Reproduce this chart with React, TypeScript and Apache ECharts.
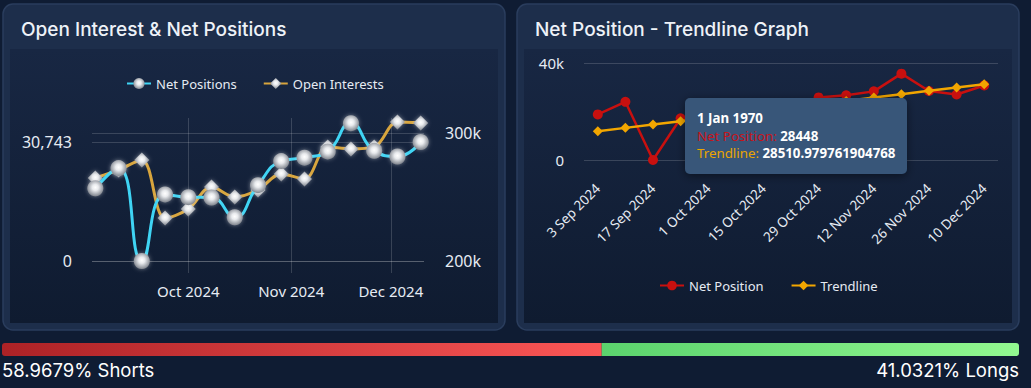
import React, { useEffect, useRef } from 'react';
import * as echarts from 'echarts';

// ---------- data ----------
const weekDates = [
  '2024-09-03', '2024-09-10', '2024-09-17', '2024-09-24', '2024-10-01',
  '2024-10-08', '2024-10-15', '2024-10-22', '2024-10-29', '2024-11-05',
  '2024-11-12', '2024-11-19', '2024-11-26', '2024-12-03', '2024-12-10',
];
const weekLabels = [
  '3 Sep 2024', '10 Sep 2024', '17 Sep 2024', '24 Sep 2024', '1 Oct 2024',
  '8 Oct 2024', '15 Oct 2024', '22 Oct 2024', '29 Oct 2024', '5 Nov 2024',
  '12 Nov 2024', '19 Nov 2024', '26 Nov 2024', '3 Dec 2024', '10 Dec 2024',
];
const netPositions = [18800, 24000, 0, 17200, 16500, 16400, 11300, 19600, 25800, 26700, 28300, 35600, 28448, 27000, 30743];
const openInterests = [264800, 271100, 278900, 233600, 240600, 257800, 250000, 255500, 268000, 264100, 289100, 287500, 289100, 308600, 307800];
const trendline = [11864, 13251, 14638, 16025, 17412, 18798, 20185, 21572, 22959, 24346, 25733, 27120, 28511, 29894, 31281];
const monthTicks = ['2024-10-01', '2024-11-01', '2024-12-01'];
const netAxisTicks = [0, 30743];
const oiAxisTicks = [200000, 300000];
const shortsPct = 58.9679;
const longsPct = 41.0321;
const tipDate = '1 Jan 1970';
const tipNet = '28448';
const tipTrend = '28510.979761904768';
const titles = ['Open Interest & Net Positions', 'Net Position - Trendline Graph'];

// ---------- style ----------
const W = 1031;
const H = 388;
const PAGE_BG = '#0f1c33';
const FONT = '"Noto Sans", "Open Sans", sans-serif';
const TITLE_FONT = 'Inter, "Noto Sans", sans-serif';
const GRID_LINE = 'rgba(255,255,255,0.16)';
const TEXT = '#e6ebf3';
const MONTHS = ['Jan', 'Feb', 'Mar', 'Apr', 'May', 'Jun', 'Jul', 'Aug', 'Sep', 'Oct', 'Nov', 'Dec'];

const toTs = (s: string) => {
  const [y, m, d] = s.split('-').map(Number);
  return new Date(y, m - 1, d).getTime();
};

const sphere = {
  type: 'radial', x: 0.5, y: 0.45, r: 0.55,
  colorStops: [
    { offset: 0, color: '#ffffff' },
    { offset: 0.35, color: '#e9ebee' },
    { offset: 1, color: '#7f848d' },
  ],
};

function panel(x: number) {
  return [
    {
      type: 'rect', z: -9, silent: true,
      shape: { x, y: 4, width: 502, height: 326, r: 10 },
      style: { fill: '#1d2e4b', stroke: '#2a3d5d', lineWidth: 1.5 },
    },
    {
      type: 'rect', z: -8, silent: true,
      shape: { x: x + 7, y: 49, width: 488, height: 274 },
      style: {
        fill: new echarts.graphic.LinearGradient(0, 0, 0, 1, [
          { offset: 0, color: '#182743' },
          { offset: 1, color: '#0f1b30' },
        ]),
      },
    },
  ];
}

export default function App() {
  const ref = useRef<HTMLDivElement>(null);

  useEffect(() => {
    document.body.style.margin = '0';
    document.body.style.background = PAGE_BG;
    const chart = echarts.init(ref.current!, null, { renderer: 'svg', width: W, height: H });

    const barX = 2;
    const barW = 1017;
    const shortW = (barW * shortsPct) / 100;
    const longW = (barW * longsPct) / 100;

    const option: any = {
      animation: false,
      textStyle: { fontFamily: FONT },
      graphic: [
        { type: 'rect', z: -10, silent: true, shape: { x: 0, y: 0, width: W, height: H }, style: { fill: PAGE_BG } },
        ...panel(3),
        ...panel(517),
        {
          type: 'text', z: 5, x: 21, y: 29,
          style: { text: titles[0], fill: '#eef2f8', font: `500 19px ${TITLE_FONT}`, verticalAlign: 'middle' },
        },
        {
          type: 'text', z: 5, x: 535, y: 29,
          style: { text: titles[1], fill: '#eef2f8', font: `500 19px ${TITLE_FONT}`, verticalAlign: 'middle' },
        },
        {
          type: 'rect', z: 5, silent: true,
          shape: { x: barX, y: 343, width: shortW, height: 13, r: [3, 0, 0, 3] },
          style: {
            fill: new echarts.graphic.LinearGradient(0, 0, 1, 0, [
              { offset: 0, color: '#ad2226' },
              { offset: 1, color: '#fb5656' },
            ]),
          },
        },
        {
          type: 'rect', z: 5, silent: true,
          shape: { x: barX + shortW, y: 343, width: longW, height: 13, r: [0, 3, 3, 0] },
          style: {
            fill: new echarts.graphic.LinearGradient(0, 0, 1, 0, [
              { offset: 0, color: '#5bd36d' },
              { offset: 1, color: '#92f890' },
            ]),
          },
        },
        {
          type: 'text', z: 5, x: 2, y: 370,
          style: { text: `${shortsPct}% Shorts`, fill: '#ffffff', font: `400 18.5px ${TITLE_FONT}`, verticalAlign: 'middle' },
        },
        {
          type: 'text', z: 5, x: 1019, y: 370,
          style: { text: `${longsPct}% Longs`, fill: '#ffffff', font: `400 18.5px ${TITLE_FONT}`, verticalAlign: 'middle', align: 'right' },
        },
        {
          type: 'group', z: 100, x: 685, y: 98,
          children: [
            {
              type: 'rect', z: 100,
              shape: { x: 0, y: 0, width: 222, height: 76, r: 5 },
              style: { fill: '#375679', shadowBlur: 10, shadowColor: 'rgba(0,0,0,0.45)', shadowOffsetY: 2 },
            },
            {
              type: 'text', z: 101, x: 12, y: 20,
              style: { text: tipDate, fill: '#ffffff', font: `bold 13.3px ${FONT}`, verticalAlign: 'middle' },
            },
            {
              type: 'text', z: 101, x: 12, y: 38,
              style: {
                text: `{a|Net Position: }{b|${tipNet}}`,
                verticalAlign: 'middle',
                font: `13.3px ${FONT}`,
                rich: {
                  a: { fill: '#c8141a', fontSize: 13.3, fontFamily: FONT },
                  b: { fill: '#ffffff', fontSize: 13.3, fontWeight: 'bold', fontFamily: FONT },
                },
              },
            },
            {
              type: 'text', z: 101, x: 12, y: 55,
              style: {
                text: `{a|Trendline: }{b|${tipTrend}}`,
                verticalAlign: 'middle',
                font: `13.3px ${FONT}`,
                rich: {
                  a: { fill: '#eba500', fontSize: 13.3, fontFamily: FONT },
                  b: { fill: '#ffffff', fontSize: 13.3, fontWeight: 'bold', fontFamily: FONT },
                },
              },
            },
          ],
        },
      ],
      legend: [
        {
          data: ['Net Positions', 'Open Interests'],
          left: 121, top: 72, itemWidth: 24, itemHeight: 14, itemGap: 26,
          textStyle: { color: TEXT, fontSize: 13, fontFamily: FONT },
        },
        {
          data: ['Net Position', 'Trendline'],
          left: 654, top: 274, itemWidth: 24, itemHeight: 12, itemGap: 27,
          textStyle: { color: TEXT, fontSize: 13, fontFamily: FONT },
        },
      ],
      grid: [
        { left: 92, top: 118, width: 332, height: 143 },
        { left: 584, top: 63, width: 414, height: 97 },
      ],
      xAxis: [
        {
          type: 'value', gridIndex: 0,
          min: toTs('2024-09-02'), max: toTs('2024-12-11'),
          axisLine: { show: false },
          axisTick: { show: true, length: 12, lineStyle: { color: GRID_LINE }, customValues: monthTicks.map(toTs) },
          axisLabel: {
            customValues: monthTicks.map(toTs),
            color: TEXT, fontSize: 15, margin: 22, fontFamily: FONT,
            formatter: (v: number) => {
              const d = new Date(v);
              return `${MONTHS[d.getMonth()]} ${d.getFullYear()}`;
            },
          },
          splitLine: { show: true, lineStyle: { color: GRID_LINE } },
        },
        {
          type: 'category', gridIndex: 1, data: weekLabels, boundaryGap: true,
          axisLine: { show: false }, axisTick: { show: false },
          axisLabel: { interval: 1, rotate: 45, color: TEXT, fontSize: 13.5, margin: 26, fontFamily: FONT },
          splitLine: { show: false },
        },
      ],
      yAxis: [
        {
          type: 'value', gridIndex: 0, min: 0, max: 36940, position: 'left',
          axisLine: { show: false }, axisTick: { show: false, customValues: netAxisTicks },
          axisLabel: {
            customValues: netAxisTicks, color: TEXT, fontSize: 16, margin: 20, fontFamily: FONT,
            formatter: (v: number) => v.toLocaleString('en-US'),
          },
          splitLine: { show: true, lineStyle: { color: GRID_LINE } },
        },
        {
          type: 'value', gridIndex: 0, min: 200000, max: 311700, position: 'right',
          axisLine: { show: false }, axisTick: { show: false, customValues: oiAxisTicks },
          axisLabel: {
            customValues: oiAxisTicks, color: TEXT, fontSize: 16, margin: 21, fontFamily: FONT,
            formatter: (v: number) => `${v / 1000}k`,
          },
          splitLine: { show: true, lineStyle: { color: GRID_LINE } },
        },
        {
          type: 'value', gridIndex: 1, min: 0, max: 40000, interval: 40000,
          axisLine: { show: false }, axisTick: { show: false },
          axisLabel: {
            color: TEXT, fontSize: 15, margin: 20, fontFamily: FONT,
            formatter: (v: number) => (v === 0 ? '0' : `${v / 1000}k`),
          },
          splitLine: { show: true, lineStyle: { color: GRID_LINE } },
        },
      ],
      series: [
        {
          name: 'Open Interests', type: 'line', xAxisIndex: 0, yAxisIndex: 1,
          data: weekDates.map((d, i) => [toTs(d), openInterests[i]]),
          smooth: 0.35, symbol: 'diamond', symbolSize: 15, z: 3,
          lineStyle: { color: '#d8a53d', width: 3 },
          itemStyle: { color: sphere, shadowBlur: 4, shadowColor: 'rgba(255,255,255,0.4)' },
        },
        {
          name: 'Net Positions', type: 'line', xAxisIndex: 0, yAxisIndex: 0,
          data: weekDates.map((d, i) => [toTs(d), netPositions[i]]),
          smooth: 0.5, symbol: 'circle', symbolSize: 16, z: 4,
          lineStyle: { color: '#3fd4f4', width: 3 },
          itemStyle: { color: sphere, shadowBlur: 4, shadowColor: 'rgba(255,255,255,0.4)' },
        },
        {
          name: 'Net Position', type: 'line', xAxisIndex: 1, yAxisIndex: 2,
          data: netPositions, symbol: 'circle', symbolSize: 10, z: 3,
          lineStyle: { color: '#c8100f', width: 2.5 },
          itemStyle: { color: '#c8100f' },
        },
        {
          name: 'Trendline', type: 'line', xAxisIndex: 1, yAxisIndex: 2,
          data: trendline, symbol: 'diamond', symbolSize: 10, z: 4,
          lineStyle: { color: '#f2a600', width: 2.5 },
          itemStyle: { color: '#f2a600' },
        },
      ],
    };

    chart.setOption(option);
    return () => chart.dispose();
  }, []);

  return <div ref={ref} style={{ width: W, height: H }} />;
}
